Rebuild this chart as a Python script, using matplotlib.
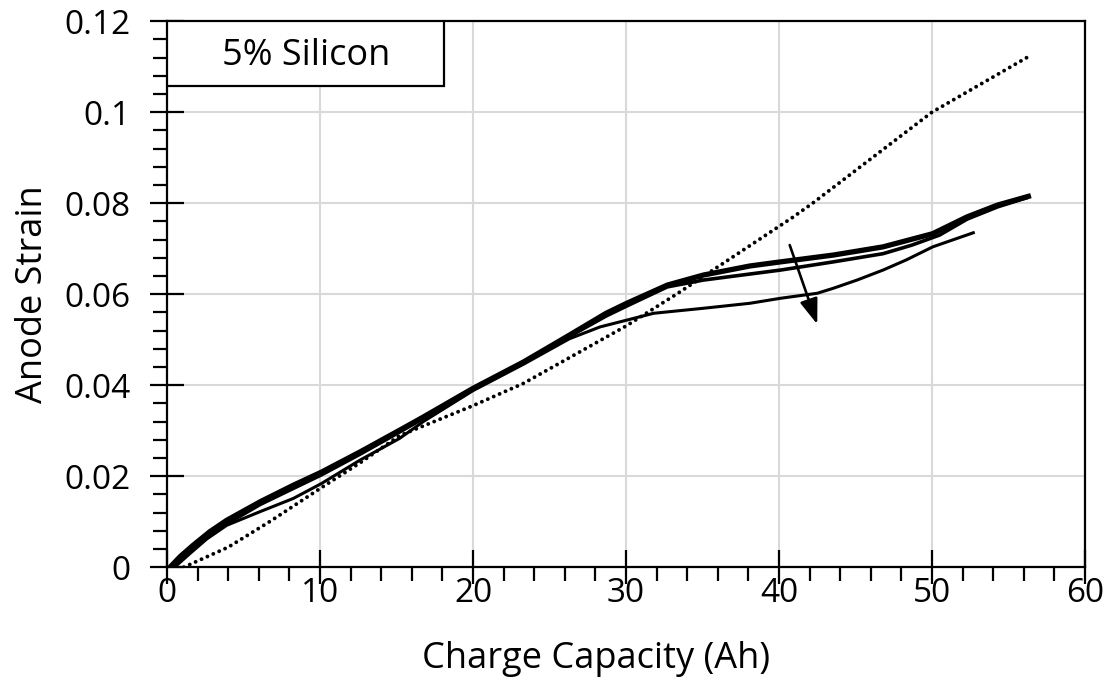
import numpy as np
import matplotlib.pyplot as plt
from matplotlib.patches import Rectangle
from matplotlib.ticker import MultipleLocator

plt.rcParams['font.family'] = ['Open Sans', 'DejaVu Sans']

# first charge cycle (thick)
cap_c1 = [0.2, 0.85, 1.7, 2.8, 3.9, 6.1, 8.25, 10.1, 12.6, 15.2, 16.75, 20.0, 23.3, 26.3, 28.7,
          30.05, 32.7, 35.05, 38.1, 40.1, 43.55, 46.8, 50.05, 52.3, 54.3, 56.3]
strain_c1 = [0.0, 0.0023, 0.0048, 0.0078, 0.0103, 0.0144, 0.0180, 0.0209, 0.0253, 0.0301, 0.0330,
             0.0393, 0.0451, 0.0510, 0.0558, 0.0580, 0.0620, 0.0642, 0.0662, 0.0671, 0.0686,
             0.0704, 0.0733, 0.0770, 0.0796, 0.0815]
# second cycle, runs just under the first
cap_c2 = [0.3, 1.0, 1.8, 2.9, 4.0, 6.1, 8.25, 10.1, 12.6, 15.2, 16.75, 20.0, 23.3, 26.3, 28.7,
          30.05, 32.7, 35.05, 40.1, 43.55, 46.8, 48.7, 50.5, 52.3, 54.3, 56.2]
strain_c2 = [0.0, 0.0022, 0.0045, 0.0073, 0.0097, 0.0138, 0.0173, 0.0203, 0.0248, 0.0297, 0.0327,
             0.0391, 0.0449, 0.0507, 0.0552, 0.0574, 0.0616, 0.0631, 0.0653, 0.0671, 0.0689,
             0.0708, 0.0730, 0.0765, 0.0792, 0.0812]
# later cycle, drops below the others past ~26 Ah
cap_c3 = [0.5, 1.5, 2.6, 3.9, 6.08, 8.25, 10.1, 12.6, 15.2, 16.75, 20.0, 23.3, 26.3, 28.3, 30.05,
          31.8, 35.05, 38.1, 40.1, 42.5, 43.55, 45.1, 46.8, 48.3, 50.05, 52.7]
strain_c3 = [0.0, 0.0030, 0.0062, 0.0092, 0.0122, 0.0151, 0.0184, 0.0235, 0.0283, 0.0320, 0.0388,
             0.0446, 0.0502, 0.0528, 0.0543, 0.0558, 0.0569, 0.0580, 0.0591, 0.0602, 0.0613,
             0.0631, 0.0653, 0.0675, 0.0704, 0.0735]

# reference line (dotted)
cap_ref = [1.1, 4.0, 6.8, 10.1, 12.6, 15.2, 20.0, 23.3, 30.0, 33.3, 40.9, 42.2, 50.0, 56.3]
strain_ref = [0.0, 0.0044, 0.0102, 0.0175, 0.0229, 0.0289, 0.0355, 0.0404, 0.0530, 0.0600,
              0.0769, 0.0800, 0.1000, 0.1122]

arrow_start = (40.7, 0.0708)
arrow_end = (42.5, 0.0534)

fig = plt.figure(figsize=(11.12, 6.9), dpi=100)
ax = fig.add_axes([0.1502, 0.178, 0.8255, 0.7913])

ax.plot(cap_ref, strain_ref, color='black', lw=2.8, linestyle=(0, (0.01, 1.65)),
        dash_capstyle='round', zorder=3)
ax.plot(cap_c3, strain_c3, color='black', lw=2.2, solid_joinstyle='round', zorder=4)
ax.plot(cap_c2, strain_c2, color='black', lw=2.6, solid_joinstyle='round', zorder=4)
ax.plot(cap_c1, strain_c1, color='black', lw=3.8, solid_joinstyle='round', zorder=4)

ax.annotate('', xy=arrow_end, xytext=arrow_start,
            arrowprops=dict(arrowstyle='-|>,head_length=0.7,head_width=0.25', color='black',
                            lw=1.9, mutation_scale=22, shrinkA=0, shrinkB=0), zorder=5)

ax.set_xlim(0, 60)
ax.set_ylim(0, 0.12)
ax.xaxis.set_major_locator(MultipleLocator(10))
ax.xaxis.set_minor_locator(MultipleLocator(2))
ax.yaxis.set_minor_locator(MultipleLocator(0.004))
ax.set_yticks([0, 0.02, 0.04, 0.06, 0.08, 0.1, 0.12])
ax.set_yticklabels(['0', '0.02', '0.04', '0.06', '0.08', '0.1', '0.12'])

ax.grid(True, which='major', color='#d9d9d9', lw=1.5, zorder=0)
ax.set_axisbelow(True)
for s in ax.spines.values():
    s.set_linewidth(1.6)
    s.set_color('black')

ax.tick_params(which='major', direction='inout', length=24, width=1.6,
               labelsize=24, top=False, right=False)
ax.tick_params(which='minor', direction='out', length=10, width=1.6,
               top=False, right=False)
ax.tick_params(axis='x', which='major', pad=-5)
ax.tick_params(axis='y', which='major', pad=14)

ax.set_xlabel('Charge Capacity (Ah)', fontsize=26)
ax.xaxis.set_label_coords(0.467, -0.136)
ax.set_ylabel('Anode Strain', fontsize=26, labelpad=10)

# label box in the top-left corner
ax.add_patch(Rectangle((0, 0.881), 0.302, 0.119, transform=ax.transAxes,
                       facecolor='white', edgecolor='black', lw=1.6, zorder=6))
ax.text(0.152, 0.937, '5% Silicon', transform=ax.transAxes, fontsize=26,
        ha='center', va='center', zorder=7)

fig.savefig('out.png', dpi=100)
